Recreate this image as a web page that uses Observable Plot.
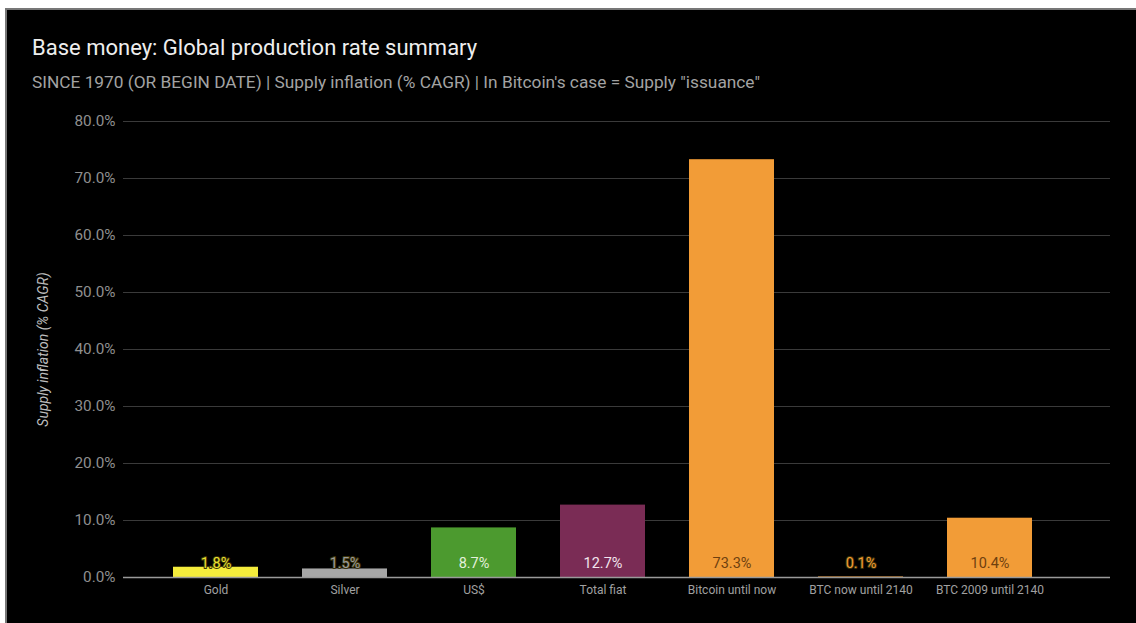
<!DOCTYPE html>
<html>
<head>
<meta charset="utf-8">
<script src="https://cdn.jsdelivr.net/npm/d3@7"></script>
<script src="https://cdn.jsdelivr.net/npm/@observablehq/plot@0.6"></script>
<style>
  html, body { margin: 0; padding: 0; background: #fff; width: 1136px; height: 623px; overflow: hidden; }
  #panel { position: absolute; left: 5px; top: 8px; width: 1131px; height: 615px; background: #000;
           border-left: 2px solid #777; border-top: 2px solid #777; box-sizing: border-box; }
  #title { position: absolute; left: 32px; top: 35px; font-family: Roboto, sans-serif; font-size: 22px; color: #eeeeee; white-space: nowrap; }
  #subtitle { position: absolute; left: 32px; top: 72px; font-family: Roboto, sans-serif; font-size: 17.3px; color: #a3a3a3; white-space: nowrap; }
  #chart { position: absolute; left: 0; top: 100px; }
</style>
</head>
<body>
<div id="panel"></div>
<div id="title">Base money: Global production rate summary</div>
<div id="subtitle">SINCE 1970 (OR BEGIN DATE) | Supply inflation (% CAGR) | In Bitcoin's case = Supply "issuance"</div>
<div id="chart"></div>
<script>
const categories = ["Gold", "Silver", "US$", "Total fiat", "Bitcoin until now", "BTC now until 2140", "BTC 2009 until 2140"];
const values = [1.8, 1.5, 8.7, 12.7, 73.3, 0.1, 10.4];
const barColors = ["#f4ec3c", "#a7a7a7", "#4c9a2f", "#7a2c55", "#f29c37", "#f29c37", "#f29c37"];
const labelColors = ["#e8e030", "#9a9a9a", "#e4f0dc", "#f2e6ee", "#6e400f", "#f29c37", "#6e400f"];
const outlined = [true, true, false, false, false, true, false];
const yTicks = [0, 10, 20, 30, 40, 50, 60, 70, 80];
const yTitle = "Supply inflation (% CAGR)";

const data = categories.map((c, i) => ({
  cat: c, value: values[i], color: barColors[i], lc: labelColors[i], outline: outlined[i],
  label: values[i].toFixed(1) + "%"
}));

const chart = Plot.plot({
  width: 1136,
  height: 523,
  marginTop: 21,
  marginBottom: 46,
  marginLeft: 123,
  marginRight: 26,
  style: { background: "transparent", color: "#9a9a9a", fontFamily: "Roboto, sans-serif", fontSize: "12px" },
  x: { type: "band", domain: categories, range: [171, 1035], paddingInner: 0.34, paddingOuter: 0, label: null },
  y: { domain: [0, 80], label: null },
  marks: [
    Plot.ruleY(yTicks.filter(d => d > 0), { stroke: "#3a3a3a", strokeWidth: 1 }),
    Plot.axisY({ ticks: yTicks, tickSize: 0, tickPadding: 8, tickFormat: d => d.toFixed(1) + "%", fontSize: 15.3, fill: "#8f8f8f", label: null }),
    Plot.axisX({ tickSize: 0, tickPadding: 8, fontSize: 12, fill: "#a0a0a0", label: null }),
    Plot.barY(data, { x: "cat", y: "value", fill: d => d.color }),
    Plot.ruleY([0], { stroke: "#9a9a9a", strokeWidth: 1.5 }),
    Plot.text(data.filter(d => !d.outline), { x: "cat", y: 0, dy: -14, text: "label", fill: d => d.lc, fontSize: 14.5 }),
    Plot.text(data.filter(d => d.outline), { x: "cat", y: 0, dy: -14, text: "label", fill: d => d.lc, stroke: "#3a3208", strokeWidth: 2, paintOrder: "stroke", fontSize: 14.5 }),
    Plot.text([yTitle], { frameAnchor: "left", textAnchor: "middle", text: d => d, rotate: -90, dx: -80, fill: "#bdbdbd", fontStyle: "italic", fontSize: 14 })
  ]
});
document.getElementById("chart").appendChild(chart);
</script>
</body>
</html>
